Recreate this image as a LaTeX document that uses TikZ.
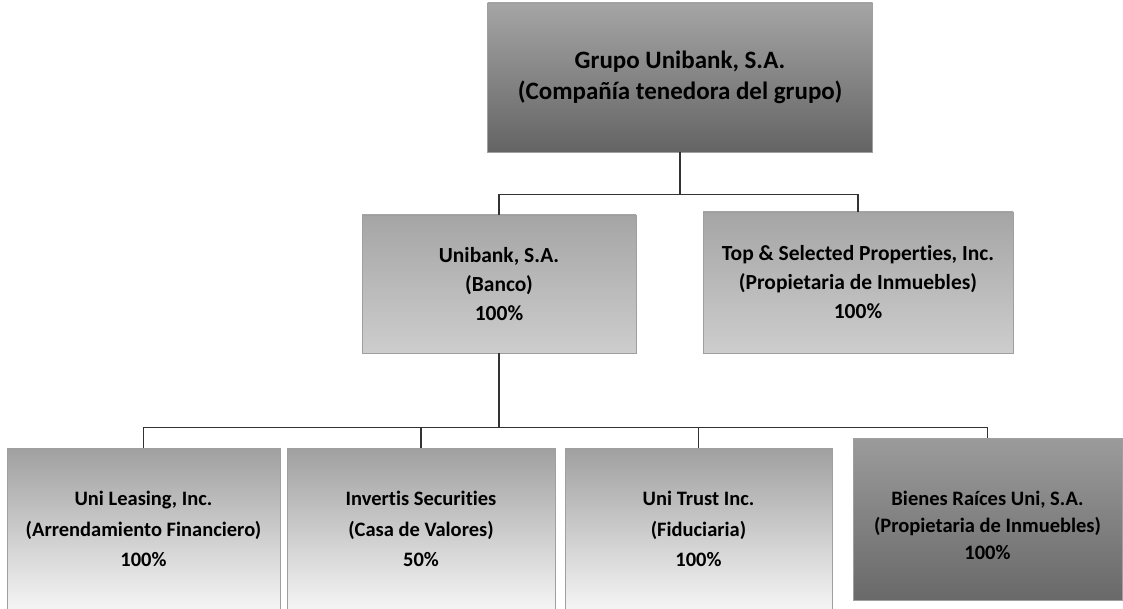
\documentclass[tikz,border=0pt]{standalone}
\usepackage{fontspec}
\setmainfont{Carlito}[Ligatures=CommonOff]
\usetikzlibrary{calc}
\definecolor{topA}{RGB}{165,165,165}
\definecolor{topB}{RGB}{100,100,100}
\definecolor{midA}{RGB}{165,165,165}
\definecolor{midB}{RGB}{205,205,205}
\definecolor{lowA}{RGB}{160,160,160}
\definecolor{lowB}{RGB}{245,245,245}
\definecolor{darkA}{RGB}{155,155,155}
\definecolor{darkB}{RGB}{105,105,105}
\begin{document}
\begin{tikzpicture}[x=1pt,y=-1pt,
  box/.style={draw=gray!75, line width=0.7pt, align=center, inner sep=0pt, text=black},
  topbox/.style={box, top color=topA, bottom color=topB, font=\bfseries\fontsize{25}{31}\selectfont},
  midbox/.style={box, top color=midA, bottom color=midB, font=\bfseries\fontsize{21.5}{29}\selectfont},
  lowbox/.style={box, top color=lowA, bottom color=lowB, font=\bfseries\fontsize{20.5}{30.5}\selectfont},
  darkbox/.style={box, top color=darkA, bottom color=darkB},
  darktext/.style={align=center, inner sep=0pt, text=black, font=\bfseries\fontsize{20.5}{27}\selectfont},
  conn/.style={draw=black!80, line width=1.1pt}
]
\useasboundingbox (0,0) rectangle (1123,609);

\node[topbox, minimum width=385pt, minimum height=149pt] (grupo) at (680,77.5)
  {Grupo Unibank, S.A.\\(Compañía tenedora del grupo)};

\node[midbox, minimum width=274pt, minimum height=138pt] (unibank) at (499,284)
  {Unibank, S.A.\\(Banco)\\100\%};
\node[midbox, minimum width=310pt, minimum height=141pt] (topsel) at (858,282.5)
  {Top \& Selected Properties, Inc.\\(Propietaria de Inmuebles)\\100\%};

\node[lowbox, minimum width=273pt, minimum height=162pt] (l1) at (143.5,529)
  {Uni Leasing, Inc.\\(Arrendamiento Financiero)\\100\%};
\node[lowbox, minimum width=268pt, minimum height=162pt] (l2) at (421,529)
  {Invertis Securities\\(Casa de Valores)\\50\%};
\node[lowbox, minimum width=267pt, minimum height=162pt] (l3) at (698.5,529)
  {Uni Trust Inc.\\(Fiduciaria)\\100\%};
\node[darkbox, minimum width=269pt, minimum height=162pt] (l4) at (987.5,519) {};
\node[darktext] (l4t) at ($(l4.center)+(0,6)$)
  {Bienes Raíces Uni, S.A.\\(Propietaria de Inmuebles)\\100\%};

% level 1 -> level 2
\coordinate (b1) at ($(grupo.south)+(0,42)$);
\draw[conn] (grupo.south) -- (b1);
\draw[conn] (unibank.north) |- (topsel.north |- b1) -- (topsel.north);

% level 2 -> level 3
\coordinate (b2) at ($(unibank.south)+(0,74)$);
\draw[conn] (unibank.south) -- (b2);
\draw[conn] (l1.north) |- (l4.north |- b2) -- (l4.north);
\draw[conn] (l2.north) -- (l2.north |- b2);
\draw[conn] (l3.north) -- (l3.north |- b2);
\end{tikzpicture}
\end{document}
